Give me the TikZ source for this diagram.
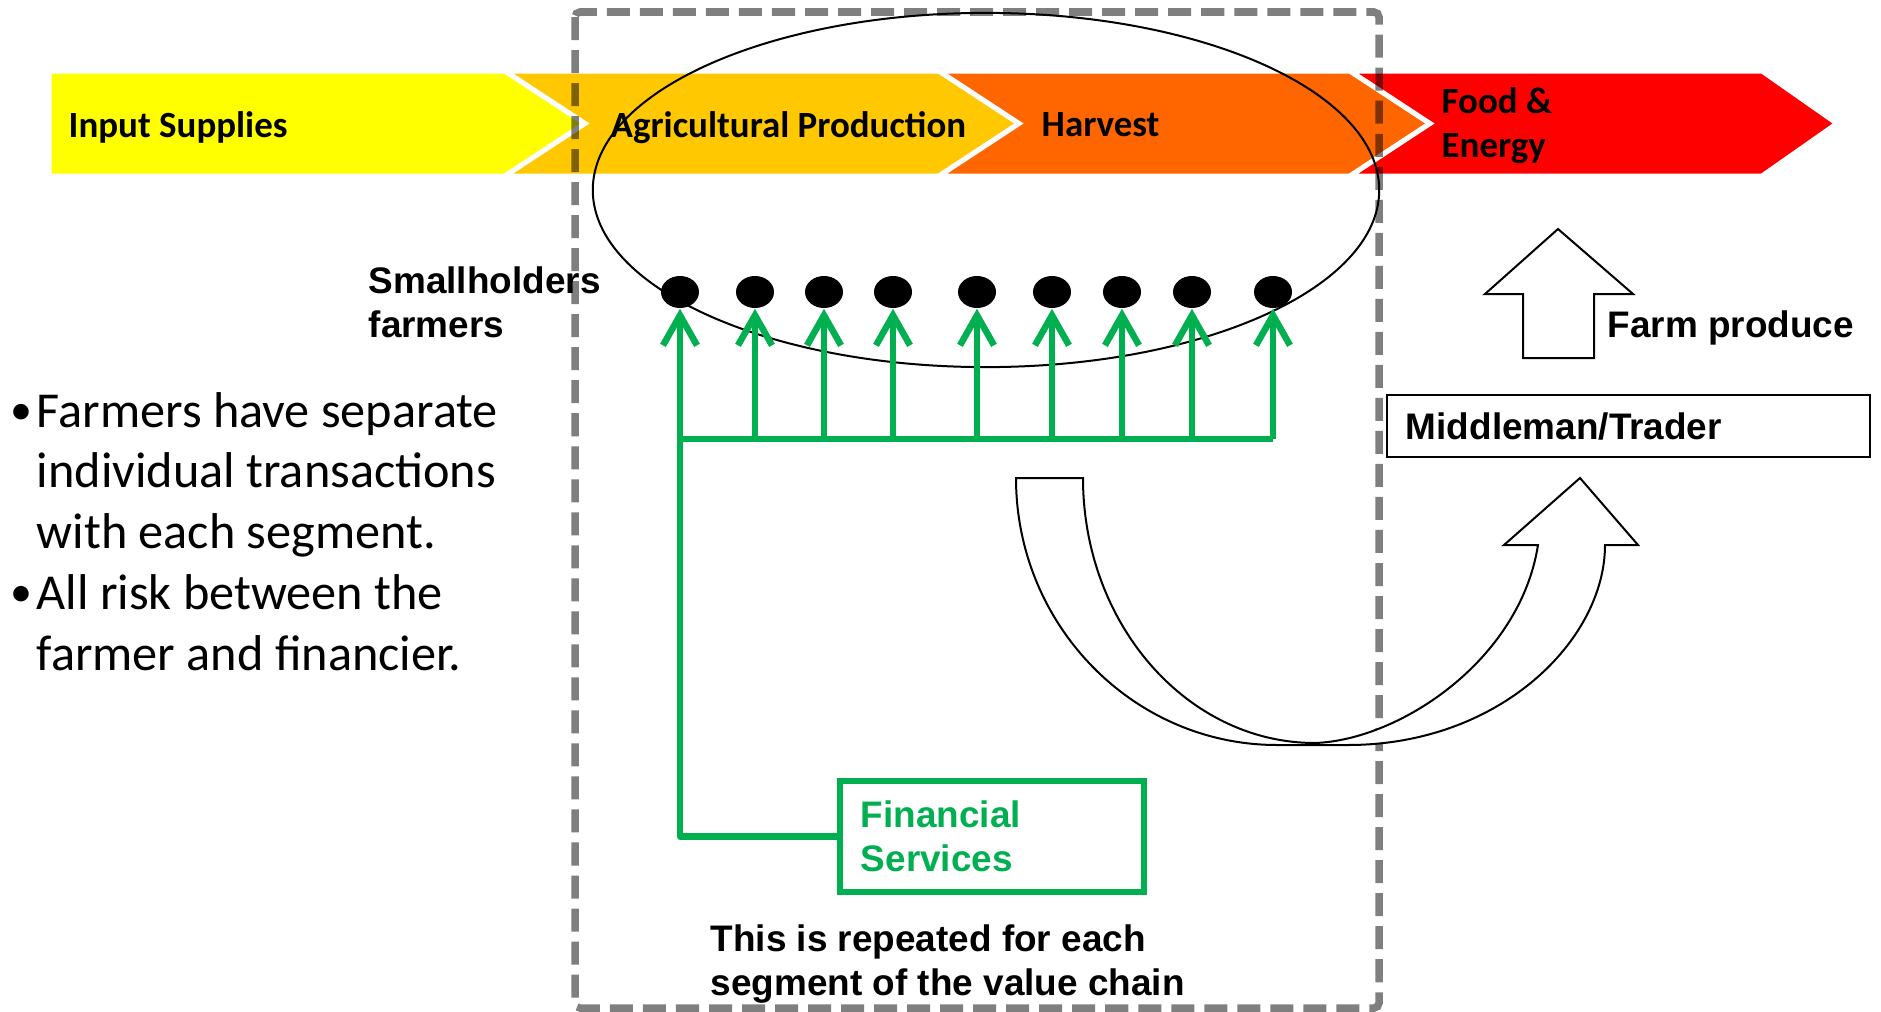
\documentclass[tikz,border=0pt]{standalone}
\usepackage{fontspec}
\setmainfont{Carlito}
\newfontfamily\arialfont{Liberation Sans}
\usepackage{xcolor}
\usepackage{tikz}
\usetikzlibrary{arrows.meta,shapes.geometric}
\definecolor{chainyellow}{HTML}{FFFF00}
\definecolor{chaingold}{HTML}{FFC800}
\definecolor{chainorange}{HTML}{FF6600}
\definecolor{chainred}{HTML}{FF0000}
\definecolor{fingreen}{HTML}{00B050}
% #1 colour, #2 left edge, #3 notch depth, #4 right edge, #5 point depth
\newcommand{\chevron}[5]{
\filldraw[fill=#1, draw=white, line width=0.05cm]
  (#2,-71) -- (#4,-71) -- (#4+#5,-123.5) -- (#4,-176) -- (#2,-176) -- (#2+#3,-123.5) -- cycle;
}
\tikzset{
  chainlabel/.style={font=\bfseries\fontsize{10.5}{12.5}\selectfont, anchor=base west, inner sep=0pt, align=left},
  armlabel/.style={font=\arialfont\bfseries\fontsize{10.5}{12.5}\selectfont, anchor=base west, inner sep=0pt, align=left},
  bulletitem/.style={font=\fontsize{14.3}{17.2}\selectfont, anchor=base west, inner sep=0pt, align=left},
  bulletmark/.style={font=\fontsize{12.5}{14}\selectfont, anchor=base, inner sep=0pt},
  farmer/.style={ellipse, fill=black, minimum width=0.38cm, minimum height=0.32cm, inner sep=0pt},
  greenline/.style={draw=fingreen, line width=0.065cm, line join=round},
  greenarrow/.style={greenline, -{Straight Barb[length=0.3cm, width=0.34cm]}},
  outlinebox/.style={draw=black, line width=0.02cm, fill=white},
  stagebox/.style={draw=black, draw opacity=0.5, line width=0.075cm, dash pattern=on 0.23cm off 0.1cm, rounded corners=0.05cm},
}

\begin{document}
\begin{tikzpicture}[x=0.01cm, y=0.01cm]
  \useasboundingbox (0,0) rectangle (1881,-1012);

  \chevron{chainyellow}{49}{0}{505}{80}
  \chevron{chaingold}{505}{80}{939}{80}
  \chevron{chainorange}{939}{80}{1350}{80}
  \chevron{chainred}{1350}{80}{1762}{75}
  \node[chainlabel] (input) at (68,-137) {Input Supplies};
  \node[chainlabel] (agri) at (610,-137) {Agricultural Production};
  \node[chainlabel] (harvest) at (1041,-136) {Harvest};
  \node[chainlabel] (food) at (1441,-157) {Food \&\\Energy};

  \draw[stagebox] (575,-12) rectangle (1379,-1008);
  \draw[line width=0.02cm] (986,-190) ellipse [x radius=3.93cm, y radius=1.77cm];

  \node[armlabel] (small) at (368,-337) {Smallholders\\farmers};
  \foreach \x [count=\i] in {680,755,824,893,977,1052,1122,1192,1273}
    \node[farmer] (f\i) at (\x,-292) {};

  \node[armlabel, anchor=center, draw=fingreen, line width=0.06cm, text=fingreen,
        minimum width=3.04cm, minimum height=1.11cm, text width=2.62cm, inner xsep=0.21cm]
        (fin) at (992,-836.5) {Financial\\Services};
  \coordinate (busL) at (f1.south |- 0,-439);
  \draw[greenline] (fin.west) -| (busL) -- (f9.south |- busL);
  \foreach \i in {1,...,9}
    \draw[greenarrow] (f\i.south |- busL) -- (f\i.south);

  \node[armlabel] (repeat) at (710,-995) {This is repeated for each\\segment of the value chain};

  \node[armlabel, anchor=center, outlinebox, minimum width=4.83cm, minimum height=0.62cm,
        text width=4.45cm, inner xsep=0.19cm] (trader) at (1628.5,-426) {Middleman/Trader};
  \draw[outlinebox] (1523,-358) -- (1523,-294) -- (1485,-294) -- (1558,-229)
    -- (1633,-294) -- (1594,-294) -- (1594,-358) -- cycle;
  \node[armlabel] (produce) at (1607,-337) {Farm produce};

  \draw[outlinebox] (1016,-478) -- (1083,-478)
    .. controls (1083,-624) and (1187,-743) .. (1315,-743)
    .. controls (1400,-740) and (1520,-660) .. (1538,-545)
    -- (1504,-545) -- (1580,-478) -- (1638,-545) -- (1605,-545)
    .. controls (1605,-640) and (1500,-745) .. (1348,-745)
    -- (1277,-745)
    .. controls (1133,-745) and (1016,-625) .. (1016,-478) -- cycle;

  \node[bulletmark] (dot1) at (21,-424) {\textbullet};
  \node[bulletitem] (risk1) at (36,-548) {Farmers have separate\\individual transactions\\with each segment.};
  \node[bulletmark] (dot2) at (21,-606) {\textbullet};
  \node[bulletitem] (risk2) at (36,-670) {All risk between the\\farmer and financier.};
\end{tikzpicture}
\end{document}
